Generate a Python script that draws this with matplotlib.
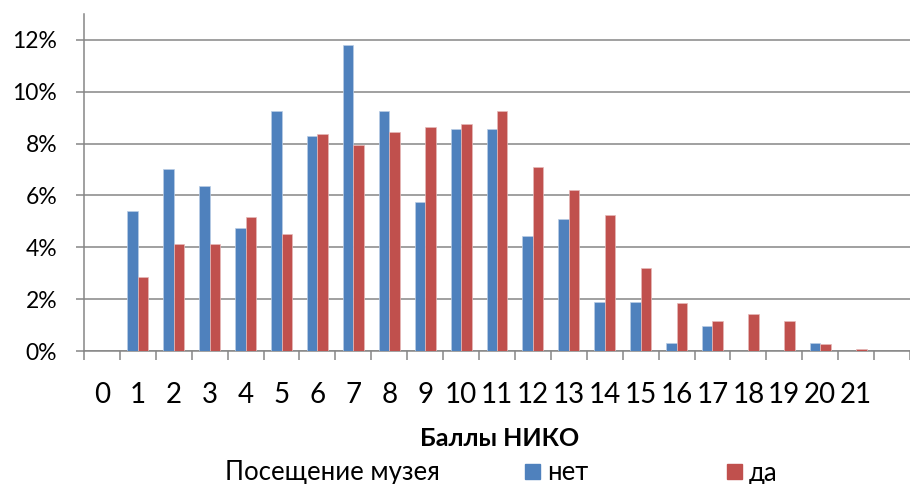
import numpy as np
import matplotlib
matplotlib.use('Agg')
import matplotlib.pyplot as plt
from matplotlib.patches import Patch

plt.rcParams['font.family'] = ['Lato', 'DejaVu Sans']

# Баллы НИКО 0..21, доли учеников (в процентах)
ballы = list(range(22))
net = [0, 5.41, 7.01, 6.37, 4.76, 9.24, 8.28, 11.79, 9.24, 5.73, 8.58, 8.58,
       4.44, 5.08, 1.89, 1.89, 0.31, 0.95, 0, 0, 0.31, 0]
da = [0, 2.86, 4.14, 4.14, 5.15, 4.53, 8.37, 7.94, 8.44, 8.66, 8.74, 9.24,
      7.09, 6.22, 5.24, 3.20, 1.85, 1.15, 1.43, 1.15, 0.27, 0.06]
yticks = [0, 2, 4, 6, 8, 10, 12]

c_net = '#4F81BD'
c_da = '#C0504D'
grey = '#868686'

fig = plt.figure(figsize=(9.1, 4.84), dpi=100)
ax = fig.add_axes([84/910, (484-351)/484, 1 - 84/910, 337/484])

x = np.arange(len(ballы))
w = 0.29
ax.bar(x - w/2, np.array(net)/100, w, color=c_net, edgecolor='#B9CDE5', linewidth=0.5, zorder=3)
ax.bar(x + w/2, np.array(da)/100, w, color=c_da, edgecolor='#E6B9B8', linewidth=0.5, zorder=3)

ax.set_xlim(-0.5, 22.44)
ax.set_ylim(0, 0.13)

ax.set_yticks([v/100 for v in yticks])
ax.set_yticklabels([f'{v}%' for v in yticks], fontsize=16.5)
ax.yaxis.grid(True, color=grey, linewidth=1.1, zorder=0)
ax.tick_params(axis='y', length=5.8, width=1.1, color=grey, pad=13.5)

ax.set_xticks(x)
ax.set_xticklabels([str(b) for b in ballы], fontsize=20)
ax.set_xticks(np.arange(-0.5, 23, 1), minor=True)
ax.tick_params(axis='x', which='major', length=0, pad=22)
ax.tick_params(axis='x', which='minor', length=6.5, width=1.1, color=grey)

for s in ['top', 'right']:
    ax.spines[s].set_visible(False)
for s in ['left', 'bottom']:
    ax.spines[s].set_color(grey)
    ax.spines[s].set_linewidth(1.1)

ax.set_xlabel('Баллы НИКО', fontsize=18, fontweight='bold')
ax.xaxis.set_label_coords((500-84)/826, (351-427)/337)

fig.text(225/910, 4/484, 'Посещение музея', fontsize=18.5, va='baseline', ha='left')
handles = [Patch(color=c_net), Patch(color=c_da)]
fig.legend(handles, ['нет', 'да'], ncol=2, loc='center left',
           bbox_to_anchor=(525/910, 11/484), frameon=False, fontsize=18.5,
           handlelength=0.6, handleheight=0.55, handletextpad=0.25,
           columnspacing=5.4, borderpad=0, borderaxespad=0)

fig.savefig('out.png', dpi=100)
